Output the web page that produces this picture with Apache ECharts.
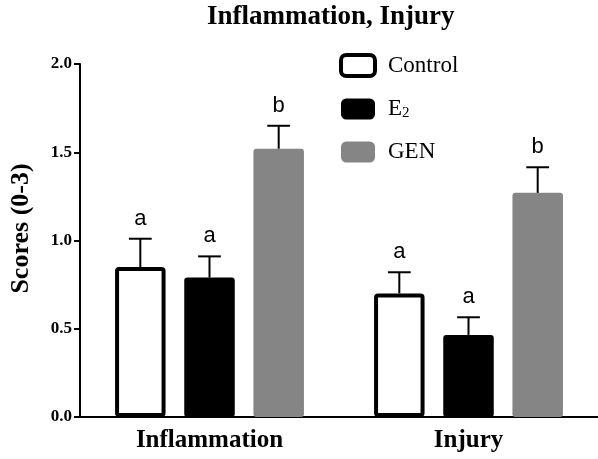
<!DOCTYPE html>
<html>
<head>
<meta charset="utf-8">
<script src="https://cdn.jsdelivr.net/npm/echarts@6/dist/echarts.min.js"></script>
<style>
  html, body { margin: 0; padding: 0; background: #fff; }
  #chart { width: 598px; height: 459px; }
</style>
</head>
<body>
<div id="chart"></div>
<script>
// values
var categories = ['Inflammation', 'Injury']
var controlVals = [0.85, 0.70]
var controlErr = [0.16, 0.12]
var e2Vals = [0.79, 0.465]
var e2Err = [0.12, 0.10]
var genVals = [1.52, 1.27]
var genErr = [0.13, 0.145]
var controlLetters = ['a', 'a']
var e2Letters = ['a', 'a']
var genLetters = ['b', 'b']
var yTicks = [0, 0.5, 1.0, 1.5, 2.0]

var serif = 'Liberation Serif'
var barW = 0.195
var barGap = 0.37

function errSeries (name, vals, errs, letters, slot) {
  return {
    type: 'custom',
    name: name + '-err',
    z: 5,
    data: vals.map(function (v, i) { return [i, v, errs[i]] }),
    renderItem: function (params, api) {
      var band = api.size([1, 0])[0]
      var off = slot * band * barW * (1 + barGap)
      var base = api.coord([api.value(0), api.value(1)])
      var top = api.coord([api.value(0), api.value(1) + api.value(2)])
      var x = base[0] + off
      var cap = band * 0.044
      var st = { stroke: '#000', lineWidth: 2 }
      return {
        type: 'group',
        children: [
          { type: 'line', shape: { x1: x, y1: base[1], x2: x, y2: top[1] }, style: st },
          { type: 'line', shape: { x1: x - cap, y1: top[1], x2: x + cap, y2: top[1] }, style: st },
          {
            type: 'text',
            x: x,
            y: top[1] - 9,
            style: {
              text: letters[params.dataIndex],
              fill: '#000',
              font: '22px "Liberation Sans", Arial, sans-serif',
              align: 'center',
              verticalAlign: 'bottom'
            }
          }
        ]
      }
    }
  }
}

var chart = echarts.init(document.getElementById('chart'))
chart.setOption({
  animation: false,
  title: {
    text: 'Inflammation, Injury',
    left: 207,
    top: 4,
    padding: 0,
    textStyle: { fontFamily: serif, fontWeight: 'bold', fontSize: 27, color: '#000' }
  },
  legend: {
    orient: 'vertical',
    left: 339,
    top: 53,
    padding: 0,
    itemWidth: 34,
    itemHeight: 21,
    itemGap: 19,
    icon: 'roundRect',
    textStyle: {
      fontFamily: serif, fontSize: 23, lineHeight: 24, color: '#000',
      padding: [0, 0, 0, 8],
      rich: { sub: { fontFamily: serif, fontSize: 15, lineHeight: 8, color: '#000', verticalAlign: 'bottom' } }
    },
    formatter: function (n) { return n === 'E2' ? 'E{sub|2}' : n },
    data: [
      { name: 'Control', itemStyle: { color: '#fff', borderColor: '#000', borderWidth: 4 } },
      { name: 'E2', itemStyle: { color: '#000', borderWidth: 0 } },
      { name: 'GEN', itemStyle: { color: '#858585', borderWidth: 0 } }
    ]
  },
  grid: { left: 75, top: 64, width: 530, height: 353 },
  xAxis: {
    type: 'category',
    data: categories,
    axisLine: { lineStyle: { color: '#000', width: 2 } },
    axisTick: { alignWithLabel: true, length: 6, lineStyle: { color: '#000', width: 2 } },
    axisLabel: { fontFamily: serif, fontWeight: 'bold', fontSize: 25, color: '#000', margin: 11 }
  },
  yAxis: {
    type: 'value',
    min: yTicks[0],
    max: yTicks[yTicks.length - 1],
    interval: 0.5,
    name: 'Scores (0-3)',
    nameLocation: 'middle',
    nameGap: 46,
    nameTextStyle: {
      fontFamily: serif, fontWeight: 'bold', fontSize: 26, color: '#000',
      padding: [0, 0, 0, 24]
    },
    axisLine: { show: true, lineStyle: { color: '#000', width: 2 } },
    axisTick: { show: true, length: 6, lineStyle: { color: '#000', width: 2 } },
    splitLine: { show: false },
    axisLabel: {
      fontFamily: serif, fontWeight: 'bold', fontSize: 17, color: '#000', margin: 8,
      formatter: function (v) { return v.toFixed(1) }
    }
  },
  series: [
    {
      name: 'Control', type: 'bar', data: controlVals,
      barWidth: (barW * 100) + '%', barGap: (barGap * 100) + '%',
      itemStyle: { color: '#fff', borderColor: '#000', borderWidth: 4, borderRadius: 2 }
    },
    {
      name: 'E2', type: 'bar', data: e2Vals,
      barWidth: (barW * 100) + '%', barGap: (barGap * 100) + '%',
      itemStyle: { color: '#000', borderRadius: 3 }
    },
    {
      name: 'GEN', type: 'bar', data: genVals,
      barWidth: (barW * 100) + '%', barGap: (barGap * 100) + '%',
      itemStyle: { color: '#858585', borderRadius: 3 }
    },
    errSeries('Control', controlVals, controlErr, controlLetters, -1),
    errSeries('E2', e2Vals, e2Err, e2Letters, 0),
    errSeries('GEN', genVals, genErr, genLetters, 1)
  ]
})
</script>
</body>
</html>
